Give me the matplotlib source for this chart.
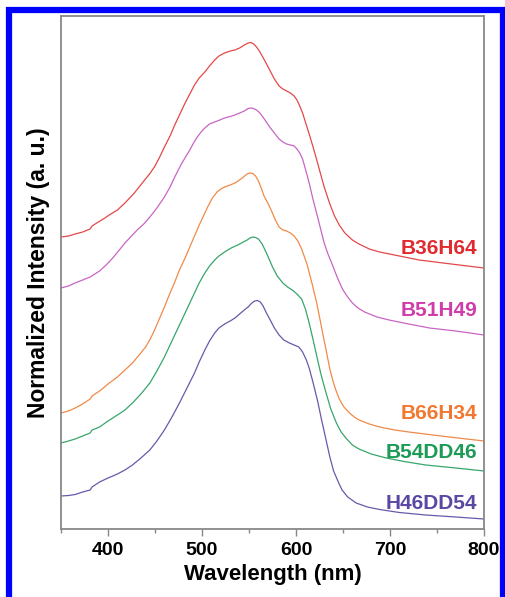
import numpy as np
import matplotlib
matplotlib.use('Agg')
import matplotlib.pyplot as plt
from matplotlib.patches import Rectangle

plt.rcParams['font.family'] = ['Liberation Sans', 'DejaVu Sans']
plt.rcParams['font.weight'] = 'bold'

# espectros normalizados (desplazados verticalmente)
wl_b36 = [350, 358, 365, 373, 381, 383, 388, 395, 403, 410, 418, 428, 439, 445, 450, 455, 460, 466,
          471, 477, 482, 487, 492, 497, 503, 508, 513.5, 518, 524, 530, 535, 540, 545, 549, 552, 555,
          558, 561, 564, 567, 572, 577, 582, 586, 590, 594, 598, 601, 604, 607, 610, 615, 620, 625,
          630, 636, 641, 646, 652, 660, 667, 678, 689, 710, 731, 765, 800]
int_b36 = [2.92, 2.93, 2.95, 2.97, 3.00, 3.03, 3.06, 3.10, 3.15, 3.19, 3.26, 3.36, 3.49, 3.56, 3.63,
           3.72, 3.82, 3.93, 4.04, 4.16, 4.26, 4.35, 4.44, 4.51, 4.57, 4.63, 4.69, 4.73, 4.76, 4.78,
           4.79, 4.81, 4.84, 4.86, 4.865, 4.85, 4.82, 4.78, 4.73, 4.68, 4.59, 4.50, 4.43, 4.40, 4.38,
           4.36, 4.33, 4.29, 4.23, 4.16, 4.07, 3.92, 3.76, 3.59, 3.42, 3.25, 3.13, 3.04, 2.96, 2.89,
           2.85, 2.80, 2.77, 2.73, 2.69, 2.65, 2.61]

wl_b51 = [350, 358, 365, 373, 381, 386, 391, 398, 405, 412, 418, 425, 431, 438, 444.5, 452, 460, 466,
          471, 478, 487, 491, 495, 499, 503, 508, 513.5, 519, 524, 530, 535, 540, 545, 549, 552, 555,
          558, 561, 564, 567, 572, 577, 582, 586, 590, 594, 598, 601, 604, 607, 610, 614, 618, 623,
          627, 630, 634, 638, 642, 646, 650, 655, 660, 666, 673, 686, 699, 720, 742, 770, 800]
int_b51 = [2.41, 2.43, 2.46, 2.49, 2.52, 2.55, 2.58, 2.64, 2.71, 2.79, 2.86, 2.93, 2.99, 3.05, 3.12,
           3.21, 3.32, 3.42, 3.52, 3.65, 3.79, 3.86, 3.92, 3.97, 4.01, 4.05, 4.07, 4.09, 4.11, 4.125,
           4.14, 4.16, 4.18, 4.205, 4.21, 4.205, 4.19, 4.165, 4.13, 4.09, 4.02, 3.96, 3.90, 3.87, 3.85,
           3.84, 3.83, 3.80, 3.76, 3.70, 3.60, 3.46, 3.30, 3.12, 2.97, 2.86, 2.75, 2.66, 2.56, 2.47,
           2.39, 2.32, 2.26, 2.21, 2.17, 2.12, 2.09, 2.05, 2.01, 1.98, 1.94]

wl_b66 = [350, 358, 365, 373, 381, 383, 391, 400, 410, 418, 426, 434, 440, 445, 450, 455, 460, 466,
          471, 476, 482, 487, 492, 497, 502, 506, 511, 516, 520, 524, 530, 535, 540, 544, 548, 551,
          554, 557, 560, 563, 566, 570, 574, 578, 582, 586, 590, 594, 598, 602, 606, 609, 612, 615,
          618, 622, 625, 629, 632, 636, 639, 642, 646, 651, 657, 662, 667, 678, 689, 705, 720, 763, 800]
int_b66 = [1.16, 1.18, 1.21, 1.25, 1.30, 1.33, 1.38, 1.45, 1.52, 1.59, 1.66, 1.75, 1.82, 1.90, 2.00,
           2.11, 2.22, 2.36, 2.47, 2.59, 2.71, 2.82, 2.93, 3.04, 3.14, 3.22, 3.31, 3.37, 3.40, 3.42,
           3.44, 3.46, 3.49, 3.52, 3.55, 3.56, 3.555, 3.53, 3.48, 3.41, 3.33, 3.26, 3.18, 3.09, 3.02,
           2.99, 2.98, 2.96, 2.93, 2.88, 2.80, 2.72, 2.64, 2.53, 2.42, 2.26, 2.12, 1.93, 1.79, 1.60,
           1.49, 1.40, 1.30, 1.22, 1.16, 1.12, 1.09, 1.05, 1.02, 0.99, 0.97, 0.92, 0.88]

wl_b54 = [350, 358, 365, 373, 381, 383, 391, 400, 410, 418, 426, 435, 444.5, 452, 460, 468, 476, 484,
          492, 497, 503, 508, 513.5, 518, 524, 531, 538, 544, 548, 551, 554, 557, 560, 564, 567, 570,
          575, 580, 586, 591, 596, 601, 606, 610, 614, 618, 623, 627, 632, 637, 643, 648, 654, 660,
          667, 680, 696, 715, 738, 770, 800]
int_b54 = [0.86, 0.88, 0.90, 0.93, 0.96, 0.99, 1.02, 1.08, 1.14, 1.19, 1.26, 1.35, 1.46, 1.58, 1.72,
           1.88, 2.04, 2.20, 2.36, 2.46, 2.56, 2.63, 2.69, 2.73, 2.77, 2.81, 2.84, 2.87, 2.89, 2.91,
           2.92, 2.915, 2.90, 2.85, 2.79, 2.73, 2.62, 2.53, 2.46, 2.42, 2.39, 2.35, 2.30, 2.20, 2.06,
           1.90, 1.69, 1.53, 1.36, 1.20, 1.06, 0.97, 0.90, 0.84, 0.80, 0.75, 0.71, 0.675, 0.64, 0.61,
           0.58]

wl_h46 = [350, 358, 365, 373, 381, 383, 391, 400, 410, 418, 426, 435, 444.5, 452, 460, 468, 476, 484,
          492, 497, 503, 508, 513.5, 518, 524, 530, 535, 540, 545, 549, 553, 556, 559, 562, 565, 568,
          572, 577, 582, 587, 593, 598, 603, 607, 611, 614, 618, 623, 627, 632, 636, 640, 645, 649,
          655, 664, 676, 689, 710, 738, 770, 800]
int_h46 = [0.33, 0.335, 0.345, 0.37, 0.39, 0.42, 0.47, 0.51, 0.55, 0.59, 0.64, 0.71, 0.79, 0.88, 0.99,
           1.12, 1.26, 1.41, 1.56, 1.67, 1.79, 1.88, 1.96, 2.01, 2.05, 2.08, 2.11, 2.15, 2.19, 2.22,
           2.26, 2.28, 2.285, 2.27, 2.23, 2.17, 2.10, 2.01, 1.94, 1.89, 1.86, 1.84, 1.82, 1.77, 1.69,
           1.61, 1.47, 1.28, 1.10, 0.89, 0.72, 0.58, 0.47, 0.39, 0.32, 0.26, 0.22, 0.195, 0.165, 0.14,
           0.12, 0.10]

nombres = ['B36H64', 'B51H49', 'B66H34', 'B54DD46', 'H46DD54']
y_etiquetas = [2.81, 2.19, 1.16, 0.77, 0.26]
colores_linea = ['#e44848', '#c865c4', '#f08a48', '#36a66c', '#6a58aa']
colores_texto = ['#e02a30', '#d03caa', '#f07830', '#1b9b55', '#5a48a3']

curvas = [(wl_b36, int_b36), (wl_b51, int_b51), (wl_b66, int_b66), (wl_b54, int_b54), (wl_h46, int_h46)]

fig = plt.figure(figsize=(5.06, 5.97), dpi=100)
ax = fig.add_axes([0.1206, 0.1139, 0.8359, 0.8593])

for (x, y), c in zip(curvas, colores_linea):
    ax.plot(x, y, lw=0.9, color=c, solid_joinstyle='round')

for n, yy, c in zip(nombres, y_etiquetas, colores_texto):
    ax.text(793, yy, n, color=c, fontsize=15, fontweight='bold', ha='right', va='center')

ax.set_xlim(350, 800)
ax.set_ylim(0, 5.13)
ax.set_xticks([400, 500, 600, 700, 800])
ax.set_xticks(np.arange(350, 801, 100), minor=True)
ax.set_yticks([])
ax.tick_params(axis='x', which='major', direction='out', length=5, width=1, color='#888888',
               labelsize=14, pad=4)
ax.tick_params(axis='x', which='minor', direction='out', length=3, width=1, color='#888888')
for lbl in ax.get_xticklabels():
    lbl.set_fontweight('bold')
for s in ax.spines.values():
    s.set_color('#888888')
    s.set_linewidth(1.3)

ax.set_xlabel('Wavelength (nm)', fontsize=16, fontweight='bold', labelpad=4)
ax.set_ylabel('Normalized Intensity (a. u.)', fontsize=16.5, fontweight='bold', labelpad=8)

# marco azul alrededor de la figura
fig.patches.append(Rectangle((9.5 / 506, -0.05), 494 / 506, 1 - 9.5 / 597 + 0.05,
                             transform=fig.transFigure, fill=False, edgecolor='#0000ff',
                             linewidth=4.5, zorder=10))

fig.savefig('out.png', dpi=100)
